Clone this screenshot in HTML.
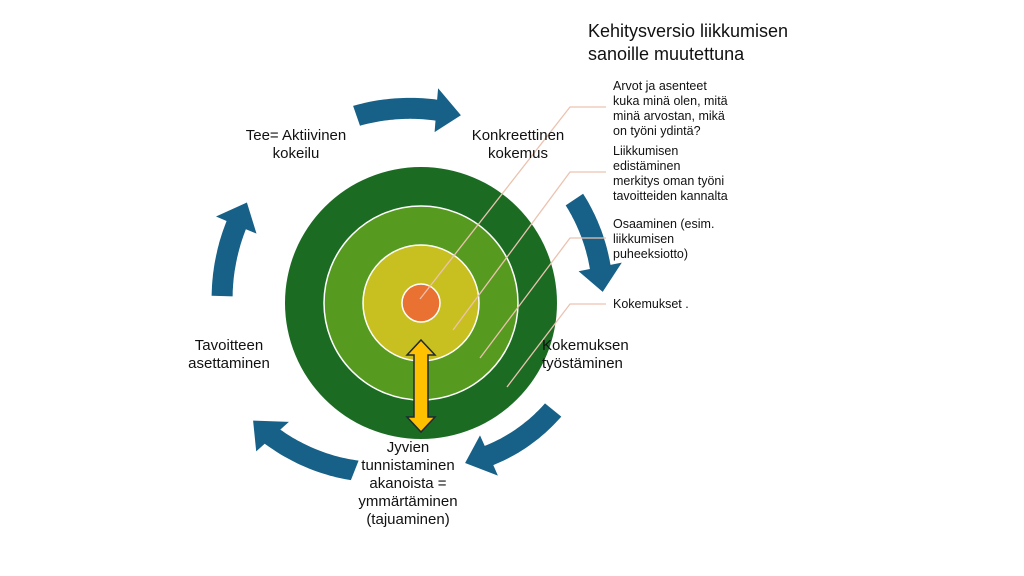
<!DOCTYPE html>
<html><head><meta charset="utf-8"><style>
body{margin:0;background:#fff;}
svg{display:block}
text{font-family:"Liberation Sans",sans-serif;fill:#111}
.c{font-size:15px;text-anchor:middle}
.s{font-size:12.5px}
</style></head><body>
<svg id="sv" width="1024" height="576" viewBox="0 0 1024 576" xmlns="http://www.w3.org/2000/svg">
<rect width="1024" height="576" fill="#fff"/>
<g id="arrows" fill="#176087"></g>
<circle cx="421" cy="303" r="136" fill="#1b6b23"/>
<circle cx="421" cy="303" r="97" fill="#579a20" stroke="#fff" stroke-width="1.5"/>
<circle cx="421" cy="303" r="58" fill="#c8c020" stroke="#fff" stroke-width="1.5"/>
<circle cx="421" cy="303" r="19" fill="#e97132" stroke="#fff" stroke-width="1.5"/>
<g fill="none" stroke="#ecc2b0" stroke-width="1.3">
<polyline points="606,107 570,107 420,299"/>
<polyline points="606,172 570,172 453,330"/>
<polyline points="606,238 570,238 480,358"/>
<polyline points="606,304 570,304 507,387"/>
</g>
<path d="M421,340 L435,355 L428,355 L428,417 L435,417 L421,432 L407,417 L414,417 L414,355 L407,355 Z" fill="#ffc000" stroke="#1e2a35" stroke-width="1.5"/>
<text x="588" y="37" style="font-size:18px">Kehitysversio liikkumisen</text>
<text x="588" y="60" style="font-size:18px">sanoille muutettuna</text>
<text class="s" x="613" y="90">Arvot ja asenteet</text>
<text class="s" x="613" y="105">kuka minä olen, mitä</text>
<text class="s" x="613" y="120">minä arvostan,  mikä</text>
<text class="s" x="613" y="135">on työni ydintä?</text>
<text class="s" x="613" y="155">Liikkumisen</text>
<text class="s" x="613" y="170">edistäminen</text>
<text class="s" x="613" y="185">merkitys oman työni</text>
<text class="s" x="613" y="200">tavoitteiden kannalta</text>
<text class="s" x="613" y="228">Osaaminen (esim.</text>
<text class="s" x="613" y="243">liikkumisen</text>
<text class="s" x="613" y="258">puheeksiotto)</text>
<text class="s" x="613" y="308">Kokemukset .</text>
<text class="c" x="296" y="140">Tee= Aktiivinen</text>
<text class="c" x="296" y="158">kokeilu</text>
<text class="c" x="518" y="140">Konkreettinen</text>
<text class="c" x="518" y="158">kokemus</text>
<text x="542" y="350" style="font-size:15px">Kokemuksen</text>
<text x="542" y="368" style="font-size:15px">työstäminen</text>
<text class="c" x="229" y="350">Tavoitteen</text>
<text class="c" x="229" y="368">asettaminen</text>
<text class="c" x="408" y="452">Jyvien</text>
<text class="c" x="408" y="470">tunnistaminen</text>
<text class="c" x="408" y="488">akanoista =</text>
<text class="c" x="408" y="506">ymmärtäminen</text>
<text class="c" x="408" y="524">(tajuaminen)</text>
</svg>
<script>
(function(){
var cx=421,cy=303,w=21,hw=22,hlpx=25;
var arcs=[[-109,198,-78,192],[-34,185,-3.5,182],[39,170,74.6,166],[111.6,180,145,205],[182,199,210,201]];
var g=document.getElementById('arrows');
function P(r,a){a=a*Math.PI/180;return [cx+r*Math.cos(a),cy+r*Math.sin(a)];}
function s(p){return p[0].toFixed(1)+','+p[1].toFixed(1);}
arcs.forEach(function(q){
 var a1=q[0],R1=q[1],a2=q[2],R2=q[3];
 var hl=hlpx/R2*180/Math.PI, ab=a2-hl;
 var N=30,outer=[],inner=[];
 for(var i=0;i<=N;i++){var t=i/N,a=a1+(ab-a1)*t,r=R1+(R2-R1)*(a-a1)/(a2-a1);
  outer.push(P(r+w/2,a));inner.push(P(r-w/2,a));}
 var rb=R1+(R2-R1)*(ab-a1)/(a2-a1);
 var pts=outer.map(s);
 pts.push(s(P(rb+hw,ab)));pts.push(s(P(R2,a2)));pts.push(s(P(rb-hw,ab)));
 for(var j=inner.length-1;j>=0;j--)pts.push(s(inner[j]));
 var e=document.createElementNS('http://www.w3.org/2000/svg','polygon');
 e.setAttribute('points',pts.join(' '));g.appendChild(e);
});
})();
</script>
</body></html>
